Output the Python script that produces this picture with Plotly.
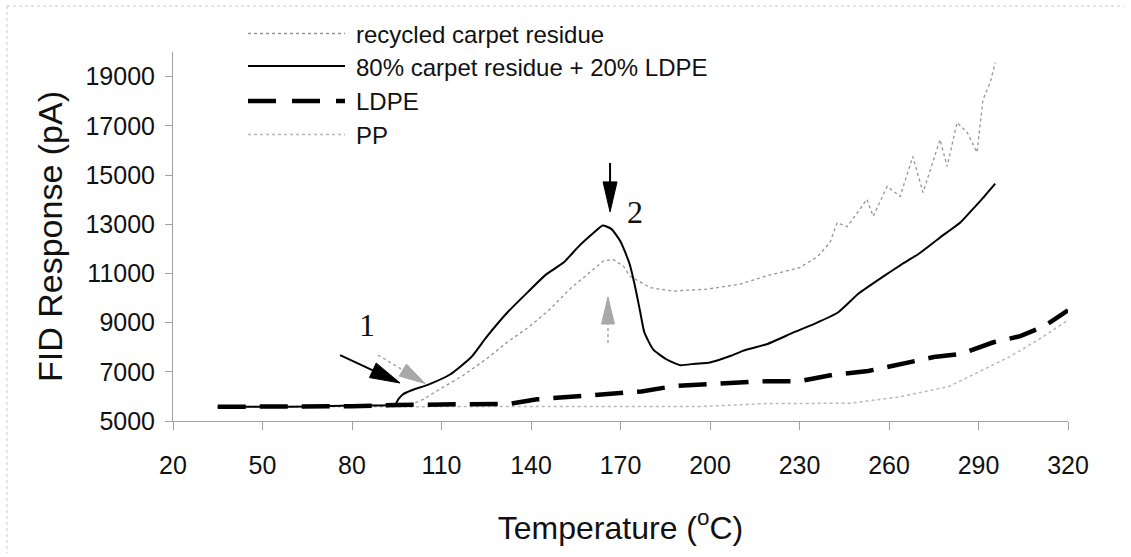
import math
import plotly.graph_objects as go

# ---------------- data ----------------
temp_recycled = [35, 60, 80, 100, 104, 109.5, 117, 125, 132, 139.7, 146.4, 153, 159.8, 164.2,
                 167.5, 171, 173.2, 180, 187.6, 199, 210, 219, 230, 236, 240.2, 242.6, 246,
                 249.3, 252.6, 254.7, 259.4, 263.7, 268, 271.4, 277.1, 279.5, 282.8, 286.2,
                 289.5, 291.5, 293.9, 295.6]
fid_recycled = [5580, 5580, 5600, 5680, 5890, 6300, 6830, 7520, 8200, 8860, 9550, 10360, 11050, 11500,
                11570, 11290, 10880, 10420, 10280, 10360, 10560, 10900, 11230, 11680, 12250, 13060, 12900,
                13480, 14010, 13320, 14540, 14130, 15750, 14290, 16440, 15350, 17130, 16730,
                15920, 18070, 18760, 19570]

temp_blend = [35, 60, 80, 94.5, 95.5, 97, 100, 106, 113, 120, 125, 132, 139, 145, 151, 156, 161,
              164, 167, 170, 173, 175, 176.5, 178, 181, 185.5, 190, 195, 200, 207, 211, 219, 228,
              235, 243, 250, 258, 264, 270, 277, 284, 288, 291, 295.6]
fid_blend = [5580, 5580, 5630, 5680, 5880, 6080, 6250, 6500, 6900, 7600, 8400, 9400, 10250, 10950,
             11450, 12100, 12650, 12950, 12800, 12300, 11400, 10400, 9500, 8600, 7900, 7500, 7270,
             7330, 7380, 7650, 7850, 8120, 8600, 8950, 9420, 10200, 10870, 11350, 11800, 12450,
             13080, 13600, 14000, 14650]

temp_ldpe = [35, 60, 80, 95, 110, 133, 142, 150, 160, 170, 177, 188, 199, 210, 219, 230, 241, 253,
             264, 275, 284, 295, 304, 312, 320]
fid_ldpe = [5580, 5580, 5600, 5650, 5680, 5700, 5880, 5950, 6040, 6120, 6200, 6420, 6500, 6580, 6620,
            6620, 6870, 7030, 7310, 7600, 7720, 8200, 8450, 8850, 9500]

temp_pp = [35, 100, 130, 150, 170, 197, 219, 247, 264, 280, 291.5, 300.6, 310, 320]
fid_pp = [5580, 5580, 5590, 5600, 5600, 5590, 5710, 5720, 5990, 6400, 7080, 7620, 8300, 9100]

series_names = ["recycled carpet residue", "80% carpet residue + 20% LDPE", "LDPE", "PP"]

x_ticks = [20, 50, 80, 110, 140, 170, 200, 230, 260, 290, 320]
y_ticks = [5000, 7000, 9000, 11000, 13000, 15000, 17000, 19000]

# annotation arrows (data coordinates): (tail_x, tail_y, tip_x, tip_y)
arrow1_black = (76.0, 7680, 96.1, 6545)
arrow1_grey = (88.7, 7680, 104.5, 6525)
arrow2_black = (166.5, 15490, 166.5, 13500)
arrow2_grey = (165.8, 8170, 165.8, 10040)
label1_pos = (85.0, 8900)
label2_pos = (174.9, 13500)

# ---------------- layout geometry ----------------
W, H = 1131, 557
ML, MR, MT, MB = 173, 63, 52, 136
X_RANGE = [20, 320]
Y_RANGE = [5000, 20000]
PW, PH = W - ML - MR, H - MT - MB
SX = PW / (X_RANGE[1] - X_RANGE[0])
SY = PH / (Y_RANGE[1] - Y_RANGE[0])


def paper_x(px):
    return (px - ML) / PW


def paper_y(py):
    return (H - MB - py) / PH


FONT = "Liberation Sans, Arial, sans-serif"
SERIF = "Liberation Serif, Times New Roman, serif"

fig = go.Figure()

fig.add_trace(go.Scatter(x=temp_pp, y=fid_pp, mode="lines", name=series_names[3],
                         line=dict(color="#b8b8b8", width=1.5, dash="dot"), showlegend=False))
fig.add_trace(go.Scatter(x=temp_recycled, y=fid_recycled, mode="lines", name=series_names[0],
                         line=dict(color="#959595", width=1.3, dash="dot"), showlegend=False))
fig.add_trace(go.Scatter(x=temp_ldpe, y=fid_ldpe, mode="lines", name=series_names[2],
                         line=dict(color="#000000", width=4.5, dash="28px,14px"), showlegend=False))
fig.add_trace(go.Scatter(x=temp_blend, y=fid_blend, mode="lines", name=series_names[1],
                         line=dict(color="#000000", width=2, shape="spline", smoothing=0.5),
                         showlegend=False))

shapes = []
annotations = []

# ---------------- manual legend ----------------
leg_x0, leg_x1, leg_text_x = paper_x(248), paper_x(345), paper_x(354)
leg_rows = [33.5, 66, 101, 134.5]
leg_styles = [dict(color="#959595", width=1.5, dash="dot"),
              dict(color="#000000", width=2),
              dict(color="#000000", width=4.5, dash="28px,16px"),
              dict(color="#b8b8b8", width=1.5, dash="dot")]
for name, row, st in zip(series_names, leg_rows, leg_styles):
    shapes.append(dict(type="line", xref="paper", yref="paper", x0=leg_x0, x1=leg_x1,
                       y0=paper_y(row), y1=paper_y(row), line=st))
    annotations.append(dict(xref="paper", yref="paper", x=leg_text_x, y=paper_y(row + 1),
                            xanchor="left", yanchor="middle", showarrow=False, text=name,
                            font=dict(family=FONT, size=24, color="#111111")))


# ---------------- arrows ----------------
def add_arrow(arrow, color, shaft_width, shaft_dash, head_len, head_half):
    tx, ty, hx, hy = arrow
    dx = (hx - tx) * SX
    dy = (hy - ty) * SY
    n = math.hypot(dx, dy)
    ux, uy = dx / n, dy / n
    bx = hx - head_len * ux / SX
    by = hy - head_len * uy / SY
    shapes.append(dict(type="line", xref="x", yref="y", x0=tx, y0=ty, x1=bx, y1=by,
                       line=dict(color=color, width=shaft_width, dash=shaft_dash)))
    px_, py_ = -uy, ux
    cx, cy = -head_len * ux, -head_len * uy
    p1 = (cx + head_half * px_, cy + head_half * py_)
    p2 = (cx - head_half * px_, cy - head_half * py_)
    path = "M0,0 L{:.2f},{:.2f} L{:.2f},{:.2f} Z".format(p1[0], p1[1], p2[0], p2[1])
    shapes.append(dict(type="path", xref="x", yref="y", xsizemode="pixel", ysizemode="pixel",
                       xanchor=hx, yanchor=hy, path=path, fillcolor=color,
                       line=dict(color=color, width=1)))


add_arrow(arrow1_grey, "#a8a8a8", 1.5, "dot", 26, 7)
add_arrow(arrow2_grey, "#a8a8a8", 1.5, "dot", 27, 6.5)
add_arrow(arrow1_black, "#000000", 2, "solid", 30, 8)
add_arrow(arrow2_black, "#000000", 2, "solid", 30, 7)

annotations.append(dict(x=label1_pos[0], y=label1_pos[1], xref="x", yref="y", text="1",
                        showarrow=False, font=dict(family=SERIF, size=32, color="#111111")))
annotations.append(dict(x=label2_pos[0], y=label2_pos[1], xref="x", yref="y", text="2",
                        showarrow=False, font=dict(family=SERIF, size=32, color="#111111")))

# faint chart border (top and left)
border = dict(color="#c8c8c8", width=1, dash="dot")
shapes.append(dict(type="line", xref="paper", yref="paper", x0=paper_x(7), x1=paper_x(1124),
                   y0=paper_y(6), y1=paper_y(6), line=border))
shapes.append(dict(type="line", xref="paper", yref="paper", x0=paper_x(7), x1=paper_x(7),
                   y0=paper_y(6), y1=paper_y(553), line=border))

fig.update_layout(
    width=W, height=H,
    margin=dict(l=ML, r=MR, t=MT, b=MB, autoexpand=False),
    paper_bgcolor="white", plot_bgcolor="white",
    shapes=shapes, annotations=annotations,
    showlegend=False,
    font=dict(family=FONT, color="#111111"),
)

fig.update_xaxes(
    range=X_RANGE, tickmode="array", tickvals=x_ticks, ticktext=[str(v) for v in x_ticks],
    showgrid=False, zeroline=False, showline=True, linecolor="#a0a0a0", linewidth=1,
    ticks="outside", ticklen=8, tickcolor="#a0a0a0", tickwidth=1,
    tickfont=dict(family=FONT, size=25, color="#111111"), ticklabelstandoff=14,
    title=dict(text="Temperature (<sup>o</sup>C)", font=dict(family=FONT, size=32, color="#111111"),
               standoff=38),
)
fig.update_yaxes(
    range=Y_RANGE, tickmode="array", tickvals=y_ticks, ticktext=[str(v) for v in y_ticks],
    showgrid=False, zeroline=False, showline=True, linecolor="#a0a0a0", linewidth=1,
    ticks="outside", ticklen=7, tickcolor="#a0a0a0", tickwidth=1,
    tickfont=dict(family=FONT, size=25, color="#111111"), ticklabelstandoff=5,
    title=dict(text="FID Response (pA)", font=dict(family=FONT, size=34, color="#111111"),
               standoff=12),
)

fig.write_html("out.html")
